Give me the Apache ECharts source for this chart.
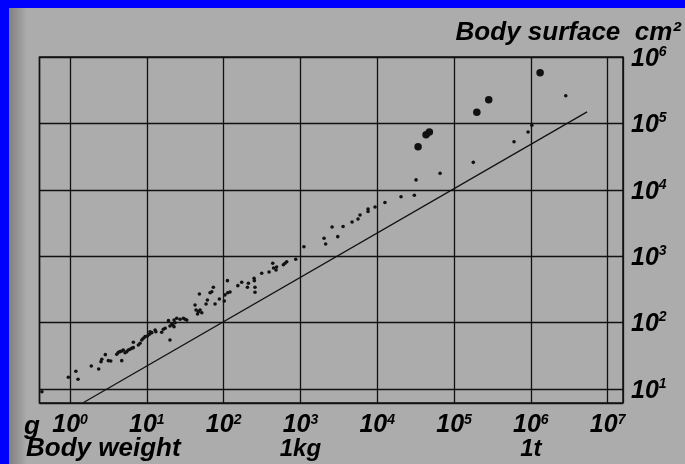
<!DOCTYPE html>
<html>
<head>
<meta charset="utf-8">
<script src="https://cdn.jsdelivr.net/npm/echarts@6/dist/echarts.min.js"></script>
<style>
  html, body { margin: 0; padding: 0; background: #0000ff; }
  #chart { width: 685px; height: 464px; }
</style>
</head>
<body>
<div id="chart"></div>
<script>
// body weight (g) vs body surface (cm2)
const bigDots = [
  [1.32e6, 5.81e5], [2.83e5, 2.28e5], [1.98e5, 1.47e5],
  [4.77e4, 7.42e4], [4.32e4, 6.76e4], [3.40e4, 4.46e4]
]
const smallDots = [
  [2.85e6, 2.61e5], [1.03e6, 9.36e4], [9.20e5, 7.42e4], [6.04e5, 5.30e4],
  [1.78e5, 2.59e4], [6.58e4, 1.77e4], [3.20e4, 1.41e4], [2.04e4, 7870],
  [3.04e4, 8260], [1.26e4, 6440], [9360, 5510], [7590, 5140], [7590, 4710],
  [5970, 4170], [5620, 3630], [4700, 3270], [3590, 2800], [2580, 2750],
  [3060, 1970], [2030, 1860], [2130, 1530], [1110, 1390], [869, 898],
  [663, 826], [630, 782], [599, 745], [436, 782], [447, 664], [489, 688],
  [481, 620], [390, 578], [313, 552], [249, 465], [251, 428], [256, 340],
  [256, 286], [210, 391], [204, 340], [172, 405], [153, 360], [112, 428],
  [113, 282], [121, 289], [104, 261], [102, 211], [87.9, 227], [77.3, 191],
  [73.4, 340], [66.5, 282], [70.0, 292], [61.4, 219], [59.0, 191], [48.3, 270],
  [42.4, 184], [43.7, 155], [46.8, 146], [49.3, 155], [51.9, 141], [45.7, 135],
  [33.1, 109], [31.4, 112], [27.1, 112], [24.5, 116], [22.6, 109], [23.3, 99.6],
  [21.7, 92.0], [22.6, 86.7], [29.9, 116], [19.1, 107], [20.0, 88.9], [21.1, 95.3],
  [20.0, 54.7], [17.3, 82.0], [16.4, 79.3], [15.6, 71.4], [12.8, 77.4], [13.1, 72.9],
  [11.0, 72.9], [11.6, 70.5], [10.8, 66.7], [10.2, 62.8], [9.48, 61.4], [9.0, 58.1],
  [8.59, 54.7], [8.15, 48.8], [7.75, 46.0], [6.67, 50.5], [6.67, 41.9], [6.36, 41.0],
  [6.04, 39.6], [5.74, 38.7], [5.47, 36.5], [5.20, 35.2], [4.94, 38.7], [4.71, 37.3],
  [4.48, 36.5], [4.26, 35.7], [4.06, 33.3], [4.71, 26.7], [3.39, 26.4], [3.15, 26.7],
  [2.88, 32.9], [2.59, 28.0], [2.53, 25.8], [2.36, 20.0], [1.89, 22.2], [1.19, 18.5],
  [1.27, 14.0], [0.95, 15.0], [0.43, 9.1]
]
// reference line (surface ~ weight^2/3), end points
const refLine = [[1.48, 6.2], [5.4e6, 1.49e5]]
const xUnits = { 3: '1kg', 6: '1t' }

const chart = echarts.init(document.getElementById('chart'))

const ink = '#111'
const txt = {
  fontFamily: 'Liberation Sans', fontStyle: 'italic', fontWeight: 'bold', color: '#000'
}

function powLabel(v, withUnit) {
  const l = Math.log10(v)
  const e = Math.round(l)
  if (Math.abs(l - e) > 0.01) return ''
  let s = '{a|10}{b|' + e + '}'
  if (withUnit && xUnits[e]) s += '\n{c|' + xUnits[e] + '}'
  return s
}

chart.setOption({
  backgroundColor: '#acacac',
  animation: false,
  grid: { left: 39.5, right: 62, top: 57, bottom: 61, show: true, borderColor: ink, borderWidth: 1.5 },
  xAxis: {
    type: 'log', logBase: 10, min: 0.4, max: 1.585e7,
    axisLine: { show: false }, axisTick: { show: false },
    splitLine: { show: true, lineStyle: { color: ink, width: 1.3 } },
    axisLabel: {
      margin: 10, showMinLabel: true, showMaxLabel: true,
      formatter: v => powLabel(v, true),
      rich: {
        a: { ...txt, fontSize: 25, lineHeight: 24 },
        b: { ...txt, fontSize: 14, verticalAlign: 'top', lineHeight: 24 },
        c: { ...txt, fontSize: 24, lineHeight: 24 }
      }
    }
  },
  yAxis: {
    type: 'log', logBase: 10, min: 6.15, max: 1e6, position: 'right',
    axisLine: { show: false }, axisTick: { show: false },
    splitLine: { show: true, lineStyle: { color: ink, width: 1.3 } },
    axisLabel: {
      margin: 8,
      formatter: v => powLabel(v, false),
      rich: {
        a: { ...txt, fontSize: 25, lineHeight: 24, padding: [4, 0, 0, 0] },
        b: { ...txt, fontSize: 14, verticalAlign: 'top', lineHeight: 24 }
      }
    }
  },
  graphic: [
    {
      type: 'rect', left: 9, top: 0, shape: { width: 18, height: 464 },
      style: { fill: new echarts.graphic.LinearGradient(0, 0, 1, 0, [
        { offset: 0, color: 'rgba(90,90,90,0.55)' }, { offset: 1, color: 'rgba(90,90,90,0)' }
      ]) }
    },
    { type: 'rect', left: 0, top: 0, shape: { width: 685, height: 8 }, style: { fill: '#0000ff' } },
    { type: 'rect', left: 0, top: 0, shape: { width: 9, height: 464 }, style: { fill: '#0000ff' } },
    { type: 'text', right: 4, top: 20, style: { ...txt, text: 'Body surface  cm²', fill: '#000', fontSize: 26 } },
    { type: 'text', left: 24, top: 414, style: { ...txt, text: 'g', fill: '#000', fontSize: 26 } },
    { type: 'text', left: 26, top: 436, style: { ...txt, text: 'Body weight', fill: '#000', fontSize: 26 } }
  ],
  series: [
    {
      type: 'line', data: refLine, symbol: 'none', silent: true,
      lineStyle: { color: ink, width: 1.3 }
    },
    {
      type: 'scatter', data: smallDots, symbolSize: 3.6,
      itemStyle: { color: ink, opacity: 1 }
    },
    {
      type: 'scatter', data: bigDots, symbolSize: 7.5,
      itemStyle: { color: ink, opacity: 1 }
    }
  ]
})
</script>
</body>
</html>
